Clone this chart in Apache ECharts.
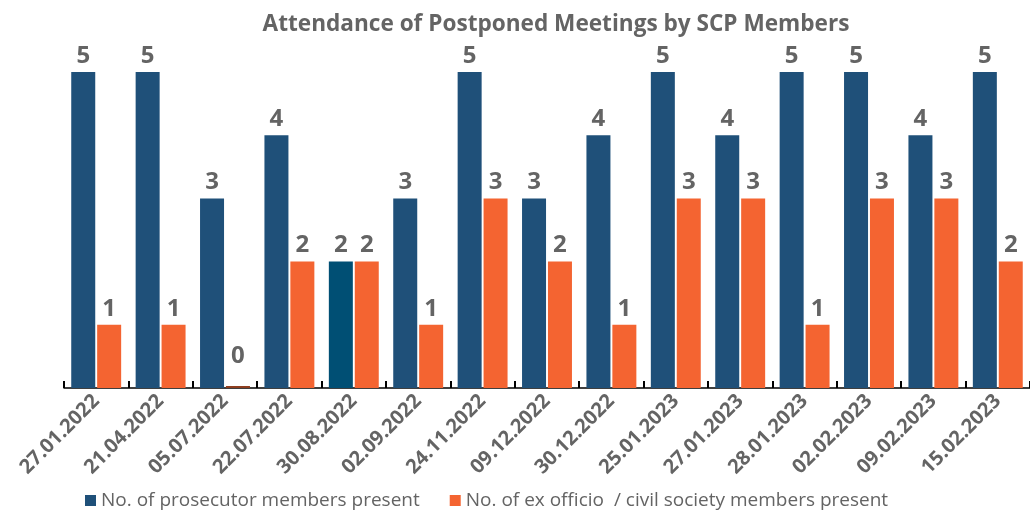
<!DOCTYPE html>
<html>
<head>
<meta charset="utf-8">
<script src="https://cdn.jsdelivr.net/npm/echarts@6/dist/echarts.min.js"></script>
<style>html,body{margin:0;padding:0;background:#fff}#c{width:1030px;height:512px}</style>
</head>
<body>
<div id="c"></div>
<script>
const categories = ['27.01.2022','21.04.2022','05.07.2022','22.07.2022','30.08.2022','02.09.2022','24.11.2022','09.12.2022','30.12.2022','25.01.2023','27.01.2023','28.01.2023','02.02.2023','09.02.2023','15.02.2023'];
const prosecutorValues = [5,5,3,4,2,3,5,3,4,5,4,5,5,4,5];
const civilValues = [1,1,0,2,2,1,3,2,1,3,3,1,3,3,2];
const seriesNames = ['No. of prosecutor members present','No. of ex officio  / civil society members present'];
const titleText = 'Attendance of Postponed Meetings by SCP Members';

const BLUE = '#1F5079', ORANGE = '#F46431', GRAY = '#646464';
const FONT = 'Open Sans';

const blueData = prosecutorValues.map((v, i) => i === 4 ? {value: v, itemStyle: {color: '#004F74'}} : v);
const orangeData = civilValues.map(v => v === 0 ? {value: v, itemStyle: {color: '#8E3E1F'}, label: {offset: [0, -14]}} : v);

const label = {show: true, position: 'top', distance: 4, color: GRAY, fontFamily: FONT, fontWeight: 'bold', fontSize: 24};

const chart = echarts.init(document.getElementById('c'));
chart.setOption({
  animation: false,
  title: {text: titleText, left: 551, textAlign: 'center', top: 8,
    textStyle: {color: GRAY, fontFamily: FONT, fontWeight: 'bold', fontSize: 22.6}},
  legend: {bottom: -3, left: 80, itemWidth: 11, itemHeight: 11, itemGap: 30, icon: 'rect',
    textStyle: {color: GRAY, fontFamily: FONT, fontSize: 19}},
  grid: {left: 64, right: 0, top: 72, bottom: 124, containLabel: false},
  xAxis: {type: 'category', data: categories,
    axisLine: {lineStyle: {color: '#000', width: 1.5}},
    axisTick: {show: true, inside: true, length: 7, alignWithLabel: false, lineStyle: {color: '#000', width: 2}},
    axisLabel: {rotate: 45, color: GRAY, fontFamily: FONT, fontWeight: 'bold', fontSize: 20, margin: 10, interval: 0}},
  yAxis: {type: 'value', min: 0, max: 5, show: false, splitLine: {show: false}},
  series: [
    {name: seriesNames[0], type: 'bar', data: blueData, barWidth: 24, barGap: '8%', itemStyle: {color: BLUE}, label: label},
    {name: seriesNames[1], type: 'bar', data: orangeData, barWidth: 24, barMinHeight: 2, itemStyle: {color: ORANGE}, label: label}
  ]
});
</script>
</body>
</html>
